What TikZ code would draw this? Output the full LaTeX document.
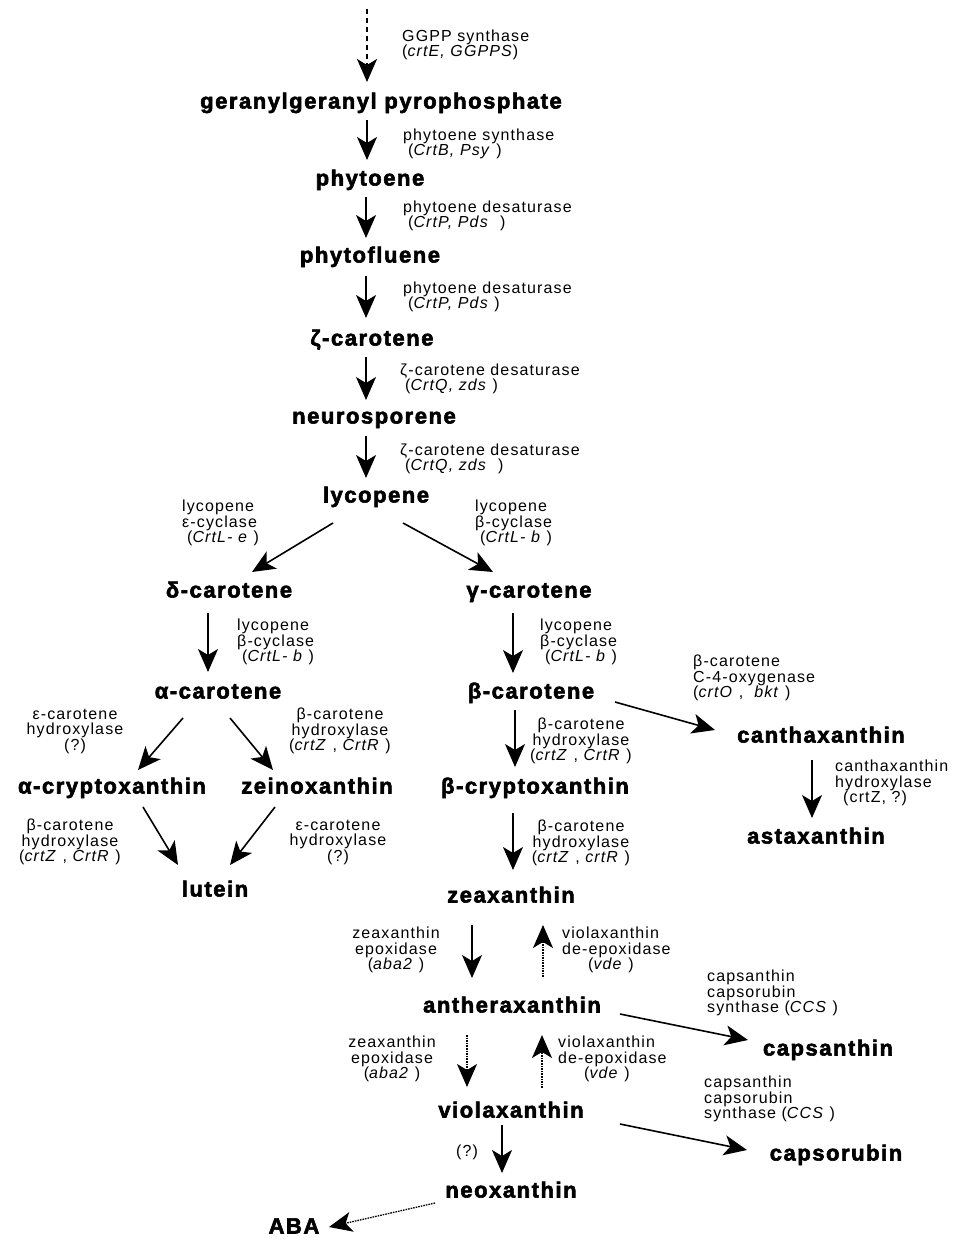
\documentclass[tikz,border=0pt]{standalone}
\usepackage{fontspec}
\setmainfont{Liberation Sans}
\newfontfamily\chemfamily[LetterSpace=7, BoldFeatures={FakeBold=2.6}]{Liberation Sans}
\newfontfamily\enzfamily[LetterSpace=7]{Liberation Sans}
\usetikzlibrary{arrows.meta, calc}

\begin{document}
\begin{tikzpicture}[
        x=1pt, y=-1pt,
        chem/.style={font=\chemfamily\fontsize{22}{24}\selectfont\bfseries, inner sep=0pt, text height=16pt, text depth=5pt},
        enzyme/.style={font=\enzfamily\fontsize{16}{15.5}\selectfont, inner sep=0pt, align=left, anchor=west},
        enzymec/.style={enzyme, align=center, anchor=center},
        rxn/.style={-{Stealth[length=23pt, width=20pt, inset=6pt]}, line width=1.6pt},
        back/.style={rxn, densely dotted, line width=1.3pt},
        entry/.style={rxn, line width=2pt, dash pattern=on 5pt off 4pt},
    ]
        \useasboundingbox[fill=white] (0,0) rectangle (957,1240);

        \node[chem] (ggpp) at (381,103) {geranylgeranyl pyrophosphate};
        \node[chem] (phyto) at (370,180) {phytoene};
        \node[chem] (phytofl) at (370,257) {phytofluene};
        \node[chem] (zcar) at (372,340) {ζ-carotene};
        \node[chem] (neuro) at (374,418) {neurosporene};
        \node[chem] (lyco) at (376,497) {lycopene};
        \node[chem] (dcar) at (229,592) {δ-carotene};
        \node[chem] (gcar) at (529,592) {γ-carotene};
        \node[chem] (acar) at (218,693) {α-carotene};
        \node[chem] (bcar) at (531,693) {β-carotene};
        \node[chem] (acryp) at (112,788) {α-cryptoxanthin};
        \node[chem] (zein) at (317,788) {zeinoxanthin};
        \node[chem] (lutein) at (215,891) {lutein};
        \node[chem] (canth) at (821,737) {canthaxanthin};
        \node[chem] (asta) at (816,838) {astaxanthin};
        \node[chem] (bcryp) at (535,788) {β-cryptoxanthin};
        \node[chem] (zea) at (511,897) {zeaxanthin};
        \node[chem] (anth) at (512,1007) {antheraxanthin};
        \node[chem] (capsan) at (828,1050) {capsanthin};
        \node[chem] (viola) at (511,1112) {violaxanthin};
        \node[chem] (capsor) at (836,1155) {capsorubin};
        \node[chem] (neo) at (511,1192) {neoxanthin};
        \node[chem] (aba) at (294,1228) {ABA};

        \node[enzyme] (ggpps) at (402,45) {GGPP synthase\\(\textit{crtE, GGPPS})};
        \node[enzyme] (psy) at (403,144) {phytoene synthase\\\hspace{5pt}(\textit{CrtB, Psy} )};
        \node[enzyme] (pdsA) at (403,216) {phytoene desaturase\\\hspace{5pt}(\textit{CrtP, Pds}\ \ )};
        \node[enzyme] (pdsB) at (403,297) {phytoene desaturase\\\hspace{5pt}(\textit{CrtP, Pds}\ )};
        \node[enzyme] (zdsA) at (400,379) {ζ-carotene desaturase\\\hspace{5pt}(\textit{CrtQ, zds} )};
        \node[enzyme] (zdsB) at (400,459) {ζ-carotene desaturase\\\hspace{5pt}(\textit{CrtQ, zds}\ \ )};
        \node[enzyme] (lcye) at (182,523) {lycopene\\ε-cyclase\\\hspace{5pt}(\textit{CrtL- e} )};
        \node[enzyme] (lcybA) at (475,523) {lycopene\\β-cyclase\\\hspace{5pt}(\textit{CrtL- b} )};
        \node[enzyme] (lcybB) at (237,642) {lycopene\\β-cyclase\\\hspace{5pt}(\textit{CrtL- b} )};
        \node[enzyme] (lcybC) at (540,642) {lycopene\\β-cyclase\\\hspace{5pt}(\textit{CrtL- b} )};
        \node[enzymec] (ehydA) at (75,731) {ε-carotene\\hydroxylase\\(?)};
        \node[enzymec] (bhydA) at (340,731) {β-carotene\\hydroxylase\\(\textit{crtZ} , \textit{CrtR} )};
        \node[enzymec] (bhydB) at (70,842) {β-carotene\\hydroxylase\\(\textit{crtZ} , \textit{CrtR} )};
        \node[enzymec] (ehydB) at (338,842) {ε-carotene\\hydroxylase\\(?)};
        \node[enzyme] (bket) at (693,678) {β-carotene\\C-4-oxygenase\\(\textit{crtO} ,\ \ \textit{bkt}\ )};
        \node[enzyme] (chyd) at (835,783) {canthaxanthin\\hydroxylase\\\hspace{8pt}(crtZ, ?)};
        \node[enzymec] (bhydC) at (581,741) {β-carotene\\hydroxylase\\(\textit{crtZ} , \textit{CrtR} )};
        \node[enzymec] (bhydD) at (581,843) {β-carotene\\hydroxylase\\(\textit{crtZ} , \textit{crtR} )};
        \node[enzymec] (zepA) at (396,950) {zeaxanthin\\epoxidase\\(\textit{aba2} )};
        \node[enzyme] (vdeA) at (562,950) {violaxanthin\\de-epoxidase\\\hspace{26pt}(\textit{vde} )};
        \node[enzymec] (zepB) at (392,1059) {zeaxanthin\\epoxidase\\(\textit{aba2} )};
        \node[enzyme] (vdeB) at (558,1059) {violaxanthin\\de-epoxidase\\\hspace{26pt}(\textit{vde} )};
        \node[enzyme] (ccsA) at (707,993) {capsanthin\\capsorubin\\synthase (\textit{CCS} )};
        \node[enzyme] (ccsB) at (704,1099) {capsanthin\\capsorubin\\synthase (\textit{CCS} )};
        \node[enzymec] (nsy) at (467,1152) {(?)};

        \coordinate (ipp) at (367,9);
        \draw[entry] (ipp) -- ($(ggpp)+(-14,-21)$);
        \draw[rxn] ($(ggpp)+(-14,17)$) -- ($(phyto)+(-3,-20)$);
        \draw[rxn] ($(phyto)+(-4,17)$) -- ($(phytofl)+(-4,-19)$);
        \draw[rxn] ($(phytofl)+(-4,19)$) -- ($(zcar)+(-6,-22)$);
        \draw[rxn] ($(zcar)+(-6,17)$) -- ($(neuro)+(-8,-18)$);
        \draw[rxn] ($(neuro)+(-8,18)$) -- ($(lyco)+(-10,-19)$);
        \draw[rxn] ($(lyco)+(-43,26)$) -- ($(dcar)+(23,-20)$);
        \draw[rxn] ($(lyco)+(27,26)$) -- ($(gcar)+(-36,-20)$);
        \draw[rxn] ($(dcar)+(-21,21)$) -- ($(acar)+(-10,-21)$);
        \draw[rxn] ($(gcar)+(-16,21)$) -- ($(bcar)+(-18,-20)$);
        \draw[rxn] ($(acar)+(-35,25)$) -- ($(acryp)+(26,-18)$);
        \draw[rxn] ($(acar)+(12,25)$) -- ($(zein)+(-44,-18)$);
        \draw[rxn] ($(acryp)+(31,19)$) -- ($(lutein)+(-37,-26)$);
        \draw[rxn] ($(zein)+(-42,19)$) -- ($(lutein)+(15,-26)$);
        \draw[rxn] ($(bcar)+(84,9)$) -- ($(canth)+(-106,-7)$);
        \draw[rxn] ($(canth)+(-9,23)$) -- ($(asta)+(-4,-20)$);
        \draw[rxn] ($(bcar)+(-16,17)$) -- ($(bcryp)+(-20,-21)$);
        \draw[rxn] ($(bcryp)+(-22,25)$) -- ($(zea)+(2,-27)$);
        \draw[rxn] ($(zea)+(-39,28)$) -- ($(anth)+(-40,-29)$);
        \draw[back] ($(anth)+(31,-30)$) -- ($(zea)+(32,28)$);
        \draw[back] ($(anth)+(-45,28)$) -- ($(viola)+(-44,-25)$);
        \draw[back] ($(viola)+(31,-24)$) -- ($(anth)+(30,28)$);
        \draw[rxn] ($(anth)+(108,7)$) -- ($(capsan)+(-80,-10)$);
        \draw[rxn] ($(viola)+(109,12)$) -- ($(capsor)+(-89,-5)$);
        \draw[rxn] ($(viola)+(-9,13)$) -- ($(neo)+(-9,-19)$);
        \draw[back] ($(neo)+(-76,11)$) -- ($(aba)+(35,-1)$);
    \end{tikzpicture}
\end{document}
